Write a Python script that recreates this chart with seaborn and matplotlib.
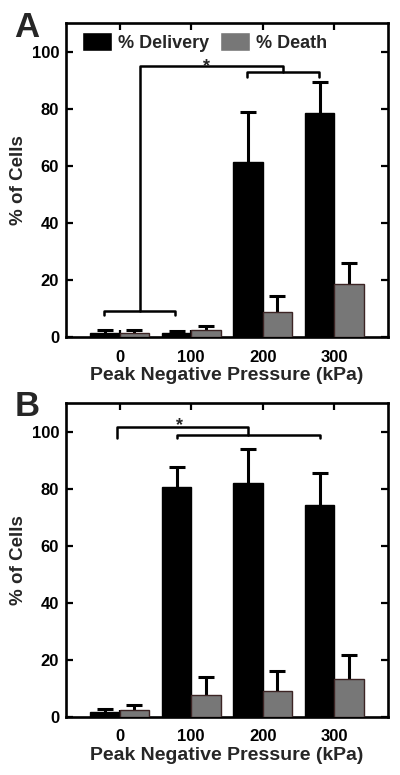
import matplotlib
matplotlib.use("Agg")
import matplotlib.pyplot as plt
import seaborn as sns
import pandas as pd
import numpy as np

# values (percent), upper error bars only
pressures = ["0", "100", "200", "300"]
measures = ["% Delivery", "% Death"]

a_delivery = [1.6, 1.3, 61.4, 78.4]
a_delivery_err = [0.9, 0.8, 17.6, 10.9]
a_death = [1.6, 2.5, 8.7, 18.6]
a_death_err = [1.0, 1.4, 5.7, 7.4]

b_delivery = [1.8, 80.6, 82.0, 74.3]
b_delivery_err = [1.0, 7.1, 11.8, 11.3]
b_death = [2.4, 7.6, 8.9, 13.4]
b_death_err = [1.8, 6.4, 7.2, 8.4]

colors = ["black", "#777777"]
edges = ["black", "#3c2424"]


def make_frame(delivery, death):
    return pd.DataFrame({
        "pressure": pressures * 2,
        "measure": [measures[0]] * 4 + [measures[1]] * 4,
        "value": delivery + death,
    })


def draw_panel(ax, delivery, delivery_err, death, death_err, letter):
    df = make_frame(delivery, death)
    sns.barplot(data=df, x="pressure", y="value", hue="measure",
                hue_order=measures, order=pressures, palette=colors,
                width=0.82, errorbar=None, ax=ax, zorder=3)
    for cont, errs, ec in zip(ax.containers, [delivery_err, death_err], edges):
        xs = [b.get_x() + b.get_width() / 2 for b in cont]
        ys = [b.get_height() for b in cont]
        for b in cont:
            b.set_edgecolor(ec)
            b.set_linewidth(1.0)
        _, caps, _ = ax.errorbar(xs, ys, yerr=[np.zeros(len(errs)), errs],
                                 fmt="none", ecolor="black", elinewidth=2.2,
                                 capsize=6, capthick=2.2, zorder=2)
        caps[0].set_visible(False)

    ax.set_xlim(-0.75, 3.75)
    ax.set_ylim(0, 110)
    ax.set_yticks([0, 20, 40, 60, 80, 100])
    ax.set_xlabel("Peak Negative Pressure (kPa)", fontsize=14, fontweight="bold",
                  labelpad=2)
    ax.set_ylabel("% of Cells", fontsize=13.5, fontweight="bold", labelpad=3)
    ax.tick_params(direction="in", length=5, width=1.6, top=True, right=True,
                   color="black", labelcolor="black", labelsize=12)
    ax.tick_params(axis="x", pad=9)
    ax.tick_params(axis="y", pad=5)
    for lab in ax.get_xticklabels() + ax.get_yticklabels():
        lab.set_fontweight("bold")
    for s in ax.spines.values():
        s.set_linewidth(1.9)
        s.set_color("black")
        s.set_visible(True)
    ax.text(-0.16, 1.04, letter, transform=ax.transAxes, fontsize=25,
            fontweight="bold", va="top", ha="left")


sns.set_theme(style="ticks")
plt.rcParams["font.family"] = ["Liberation Sans", "DejaVu Sans"]
plt.rcParams["font.weight"] = "bold"

fig = plt.figure(figsize=(4, 7.75), dpi=100)
ax_a = fig.add_axes([0.165, 0.565, 0.805, 0.405])
ax_b = fig.add_axes([0.165, 0.075, 0.805, 0.405])

draw_panel(ax_a, a_delivery, a_delivery_err, a_death, a_death_err, "A")
draw_panel(ax_b, b_delivery, b_delivery_err, b_death, b_death_err, "B")

handles, labels = ax_a.get_legend_handles_labels()
ax_a.legend(handles, labels, loc="upper left", bbox_to_anchor=(0.022, 1.0),
            ncol=2, frameon=False, fontsize=13, handlelength=1.65,
            handleheight=1.25, handletextpad=0.35, columnspacing=0.6,
            borderaxespad=0.1)
ax_b.get_legend().remove()

# significance brackets
lw = 1.8
ax_a.plot([-0.22, -0.22, 0.78, 0.78], [7.8, 9.2, 9.2, 7.8], color="black", lw=lw)
ax_a.plot([0.28, 0.28, 2.28, 2.28], [9.2, 94.9, 94.9, 92.8], color="black", lw=lw)
ax_a.plot([1.78, 1.78, 2.78, 2.78], [91.0, 92.8, 92.8, 91.0], color="black", lw=lw)
ax_a.text(1.22, 93.4, "*", ha="center", va="baseline", fontsize=13, fontweight="bold")

ax_b.plot([-0.04, -0.04, 1.79, 1.79], [97.6, 101.7, 101.7, 98.8], color="black", lw=lw)
ax_b.plot([0.8, 0.8, 2.8, 2.8], [97.6, 98.8, 98.8, 97.6], color="black", lw=lw)
ax_b.text(0.84, 100.6, "*", ha="center", va="baseline", fontsize=13, fontweight="bold")

fig.savefig("out.png", dpi=100)
